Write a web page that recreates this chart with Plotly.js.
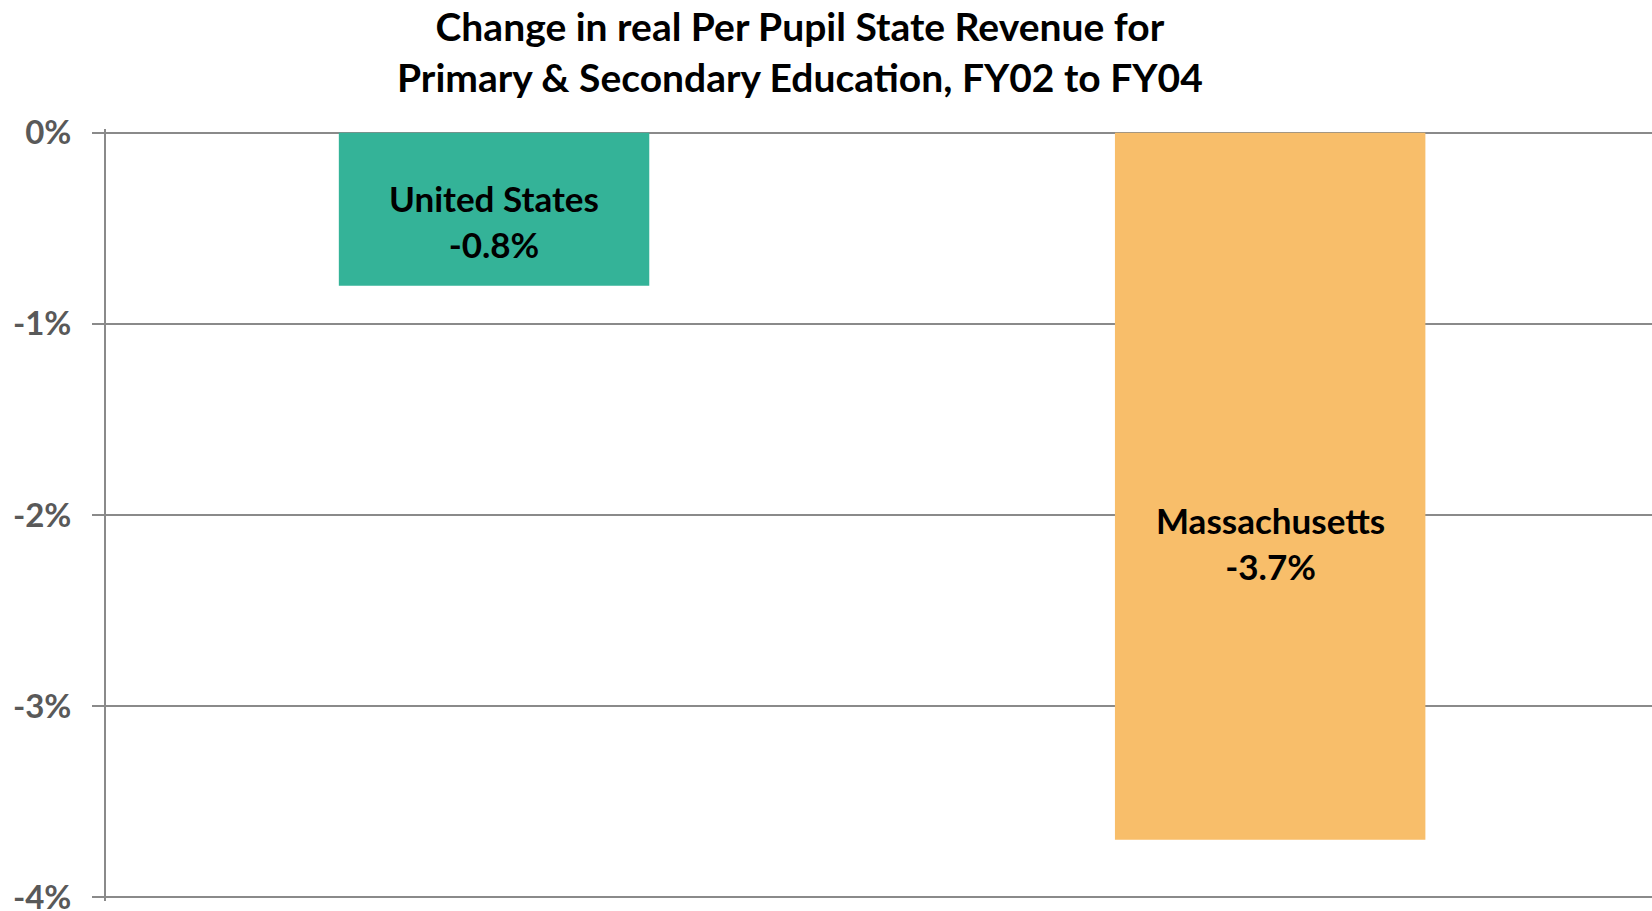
<!DOCTYPE html>
<html>
<head>
<meta charset="utf-8">
<script src="https://cdn.plot.ly/plotly-3.0.1.min.js"></script>
<style>html,body{margin:0;padding:0;background:#fff;}#chart{width:1652px;height:911px;}</style>
</head>
<body>
<div id="chart"></div>
<script>
const categories = ["United States", "Massachusetts"];
const values = [-0.8, -3.7];
const barColors = ["#34B398", "#F8BE6A"];
const tickValues = [0, -1, -2, -3, -4];
const tickLabels = ["0%", "-1%", "-2%", "-3%", "-4%"];
const titleText = "Change in real Per Pupil State Revenue for<br>Primary & Secondary Education, FY02 to FY04";

const FONT = "Lato, 'Open Sans', sans-serif";

const trace = {
  type: "bar",
  x: categories,
  y: values,
  marker: {color: barColors, line: {width: 0}},
  hoverinfo: "none",
  width: 0.4
};

const annotations = categories.map((c, i) => ({
  x: c, xref: "x",
  y: values[i] * 0.58, yref: "y",
  text: "<b>" + c + "<br>" + values[i].toFixed(1) + "%</b>",
  showarrow: false,
  font: {family: FONT, size: 35, color: "#000"},
  align: "center"
}));

annotations.push({
  text: "<b>" + titleText + "</b>",
  xref: "paper", x: (803 - 106) / 1552, xanchor: "center",
  yref: "paper", y: 1.0355, yanchor: "bottom",
  showarrow: false, align: "center",
  font: {family: FONT, size: 39, color: "#000"}
});

const layout = {
  width: 1652, height: 911,
  margin: {l: 106, r: 0, t: 129, b: 10},
  paper_bgcolor: "#fff", plot_bgcolor: "#fff",
  showlegend: false,
  xaxis: {
    range: [-0.5, 1.492],
    showgrid: false, zeroline: false, showline: false,
    showticklabels: false, fixedrange: true
  },
  yaxis: {
    range: [-4.02, 0.02],
    tickvals: tickValues, ticktext: tickLabels,
    showgrid: true, gridcolor: "#8a8a8a", gridwidth: 2,
    zeroline: false,
    showline: true, linecolor: "#8a8a8a", linewidth: 2,
    ticks: "outside", ticklen: 12, tickcolor: "#8a8a8a", tickwidth: 2,
    ticklabelstandoff: 14,
    ticklabeloverflow: "allow",
    tickfont: {family: FONT, size: 33, color: "#595959", weight: "bold"},
    fixedrange: true
  },
  annotations: annotations
};

Plotly.newPlot("chart", [trace], layout, {displayModeBar: false, staticPlot: true});
</script>
</body>
</html>
